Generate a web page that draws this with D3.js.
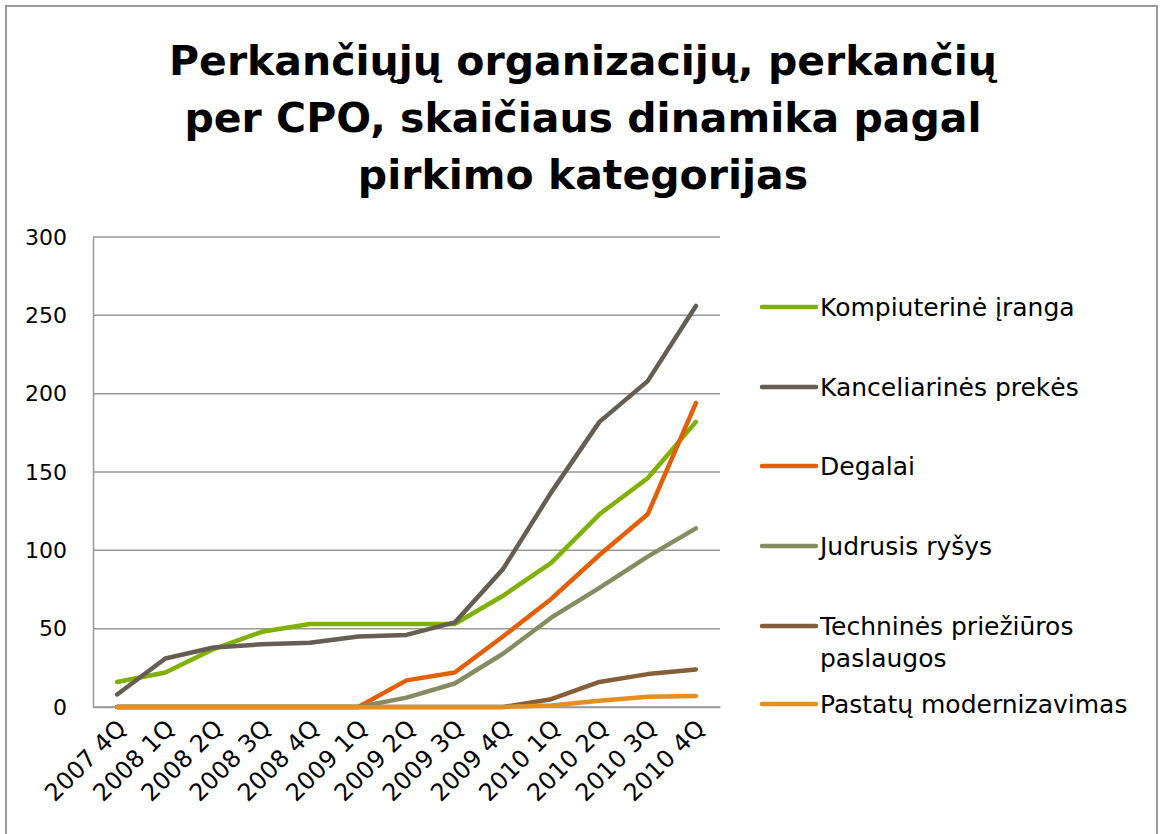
<!DOCTYPE html>
<html>
<head>
<meta charset="utf-8">
<script src="https://cdn.jsdelivr.net/npm/d3@7"></script>
<style>
  body { margin: 0; background: #fff; }
  svg { display: block; font-family: "DejaVu Sans", sans-serif; }
</style>
</head>
<body>
<div id="main"></div>
<script>
var quarters = ['2007 4Q', '2008 1Q', '2008 2Q', '2008 3Q', '2008 4Q', '2009 1Q', '2009 2Q',
                '2009 3Q', '2009 4Q', '2010 1Q', '2010 2Q', '2010 3Q', '2010 4Q'];
var seriesNames = ['Kompiuterinė įranga', 'Kanceliarinės prekės', 'Degalai', 'Judrusis ryšys',
                   'Techninės priežiūros paslaugos', 'Pastatų modernizavimas'];
var kompiuterine = [16, 22, 37, 48, 53, 53, 53, 53, 71, 92, 123, 146, 182];
var kanceliarines = [8, 31, 38, 40, 41, 45, 46, 54, 88, 137, 182, 208, 256];
var degalai = [0, 0, 0, 0, 0, 0, 17, 22, 45, 69, 97, 123, 194];
var judrusis = [0, 0, 0, 0, 0, 0, 6, 15, 34, 57, 76, 96, 114];
var technines = [0, 0, 0, 0, 0, 0, 0, 0, 0, 5, 16, 21, 24];
var pastatu = [0, 0, 0, 0, 0, 0, 0, 0, 0, 1, 4, 6.5, 7];
var yTicks = [0, 50, 100, 150, 200, 250, 300];
var colors = ['#80b000', '#665e53', '#e35e05', '#878b62', '#855e3a', '#e58f21'];

var allSeries = [kompiuterine, kanceliarines, degalai, judrusis, technines, pastatu];

var W = 1161, H = 834;
var svg = d3.select('#main').append('svg').attr('width', W).attr('height', H);

// outer frame (bottom is cut off in the original)
svg.append('path')
    .attr('d', 'M6,' + H + 'V6H1157V' + H)
    .attr('fill', 'none').attr('stroke', '#9a9a9a').attr('stroke-width', 2);

// title
var titleLines = ['Perkančiųjų organizacijų, perkančių', 'per CPO, skaičiaus dinamika pagal', 'pirkimo kategorijas'];
svg.append('text')
    .attr('x', 583).attr('y', 75)
    .attr('text-anchor', 'middle')
    .attr('font-size', 41).attr('font-weight', 'bold')
    .selectAll('tspan').data(titleLines).enter().append('tspan')
    .attr('x', 583).attr('dy', function(d, i) { return i ? 57 : 0; })
    .text(function(d) { return d; });

var plotL = 93, plotR = 720, plotT = 237, plotB = 707;

var x = d3.scalePoint().domain(quarters).range([plotL, plotR]).padding(0.5);
var y = d3.scaleLinear().domain([0, 300]).range([plotB, plotT]);

// gridlines
svg.append('g').selectAll('line').data(yTicks).enter().append('line')
    .attr('x1', plotL).attr('x2', plotR)
    .attr('y1', function(d) { return y(d); }).attr('y2', function(d) { return y(d); })
    .attr('stroke', '#999').attr('stroke-width', 1.5);

// y axis
var yAxis = svg.append('g')
    .attr('transform', 'translate(' + plotL + ',0)')
    .call(d3.axisLeft(y).tickValues(yTicks).tickSize(0).tickPadding(26));
yAxis.select('.domain').attr('stroke', '#999').attr('stroke-width', 1.5);
yAxis.selectAll('text').attr('font-size', 22).attr('fill', '#000')
    .attr('font-family', '"DejaVu Sans", sans-serif');

// x axis labels
var xAxis = svg.append('g')
    .attr('transform', 'translate(0,' + plotB + ')')
    .call(d3.axisBottom(x).tickSize(0).tickPadding(0));
xAxis.select('.domain').attr('stroke', '#999').attr('stroke-width', 1.5);
xAxis.selectAll('text')
    .attr('font-size', 24).attr('fill', '#000')
    .attr('font-family', '"DejaVu Sans", sans-serif')
    .attr('text-anchor', 'end')
    .attr('dy', null).attr('y', 0)
    .attr('transform', 'translate(10,23) rotate(-45)');

// lines, drawn in series order so the last one sits on top
var line = d3.line()
    .x(function(d, i) { return x(quarters[i]); })
    .y(function(d) { return y(d); });

svg.append('g').selectAll('path').data(allSeries).enter().append('path')
    .attr('d', function(s) { return line(s); })
    .attr('fill', 'none')
    .attr('stroke', function(s, k) { return colors[k]; })
    .attr('stroke-width', 4.5)
    .attr('stroke-linecap', 'round')
    .attr('stroke-linejoin', 'round');

// legend
var legendY = [307, 387, 466, 546, 626, 704];
var legend = svg.append('g').selectAll('g').data(seriesNames).enter().append('g')
    .attr('transform', function(d, i) { return 'translate(760,' + legendY[i] + ')'; });
legend.append('line')
    .attr('x1', 2).attr('x2', 56)
    .attr('stroke', function(d, i) { return colors[i]; })
    .attr('stroke-width', 4.5).attr('stroke-linecap', 'round');
legend.append('text')
    .attr('x', 60).attr('y', 9)
    .attr('font-size', 25)
    .each(function(d) {
        var parts = d === 'Techninės priežiūros paslaugos' ? ['Techninės priežiūros', 'paslaugos'] : [d];
        d3.select(this).selectAll('tspan').data(parts).enter().append('tspan')
            .attr('x', 60).attr('dy', function(p, j) { return j ? 32 : 0; })
            .text(function(p) { return p; });
    });
</script>
</body>
</html>
